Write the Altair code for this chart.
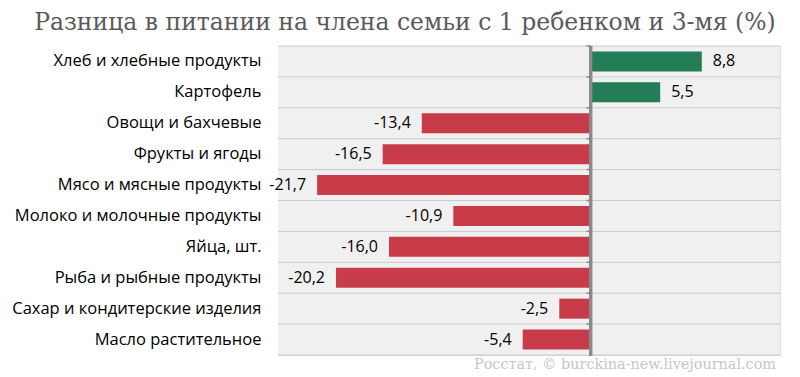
import altair as alt
import pandas as pd

categories = [
    "Хлеб и хлебные продукты",
    "Картофель",
    "Овощи и бахчевые",
    "Фрукты и ягоды",
    "Мясо и мясные продукты",
    "Молоко и молочные продукты",
    "Яйца, шт.",
    "Рыба и рыбные продукты",
    "Сахар и кондитерские изделия",
    "Масло растительное",
]
values = [8.8, 5.5, -13.4, -16.5, -21.7, -10.9, -16.0, -20.2, -2.5, -5.4]
title_text = "Разница в питании на члена семьи с 1 ребенком и 3-мя (%)"
source_text = "Росстат, © burckina-new.livejournal.com"

df = pd.DataFrame({"cat": categories, "val": values})
df["label"] = [f"{v:.1f}".replace(".", ",") for v in values]
df["sign"] = ["pos" if v >= 0 else "neg" for v in values]
df["zero"] = 0.0
df["tl"] = -0.35

W, H = 502, 309
xs = alt.Scale(domain=[-24.8, 15.0], nice=False, zero=False)
ys = alt.Scale(domain=categories, paddingInner=0, paddingOuter=0)
yaxis = alt.Axis(title=None, domain=False, ticks=False, grid=False, labelPadding=17,
                 labelFont="Open Sans", labelFontSize=16.5, labelColor="#000000",
                 labelLimit=300)
Y = alt.Y("cat:N", scale=ys, sort=categories, axis=yaxis)
Yb = alt.Y("cat:N", scale=ys, sort=categories, axis=yaxis, bandPosition=0)

base = alt.Chart(df)
one = alt.Chart(pd.DataFrame({"t": [source_text]}))

bg = one.mark_rect(color="#f0f0f0").encode(
    x=alt.value(0), x2=alt.value(W), y=alt.value(0), y2=alt.value(H)
)

grid = base.mark_rule(color="#cacaca", strokeWidth=1).encode(
    y=Yb, x=alt.value(0), x2=alt.value(W),
)
bottom = one.mark_rule(color="#cacaca", strokeWidth=1).encode(
    y=alt.value(H), x=alt.value(0), x2=alt.value(W)
)

bars = base.mark_bar(size=20).encode(
    x=alt.X("val:Q", scale=xs, axis=None),
    x2="zero:Q",
    y=Y,
    color=alt.Color("sign:N", scale=alt.Scale(domain=["pos", "neg"], range=["#237d56", "#c83c4a"]), legend=None),
)

zero = base.mark_rule(color="#8a8a8a", strokeWidth=2.5).encode(
    x=alt.X("zero:Q", scale=xs, axis=None), y=alt.value(0), y2=alt.value(H + 1)
)
ticks = base.mark_rule(color="#8a8a8a", strokeWidth=1.5).encode(
    y=Yb, x=alt.X("tl:Q", scale=xs, axis=None), x2="zero:Q",
)

pos_text = base.transform_filter("datum.val >= 0").mark_text(
    align="left", baseline="middle", dx=11, font="Open Sans", fontSize=16, color="#000000"
).encode(x=alt.X("val:Q", scale=xs, axis=None), y=Y, text="label:N")
neg_text = base.transform_filter("datum.val < 0").mark_text(
    align="right", baseline="middle", dx=-11, font="Open Sans", fontSize=16, color="#000000"
).encode(x=alt.X("val:Q", scale=xs, axis=None), y=Y, text="label:N")

src = one.mark_text(
    align="right", baseline="middle", font="DejaVu Serif", fontSize=14.4, color="#c6c6c6"
).encode(x=alt.value(W - 4), y=alt.value(H + 10), text="t:N")

chart = alt.layer(bg, grid, bottom, bars, zero, ticks, pos_text, neg_text, src).properties(
    width=W, height=H,
    title=alt.TitleParams(title_text, anchor="middle", dx=-124, offset=10,
                          font="DejaVu Serif", fontSize=23.5, fontWeight="normal",
                          color="#5a5a5a"),
    autosize=alt.AutoSizeParams(type="none"),
    padding={"left": 278, "top": 46, "right": 20, "bottom": 22},
).configure_view(strokeWidth=0).configure(background="#ffffff")

chart.save("out.html", embed_options={"renderer": "svg", "actions": False})
